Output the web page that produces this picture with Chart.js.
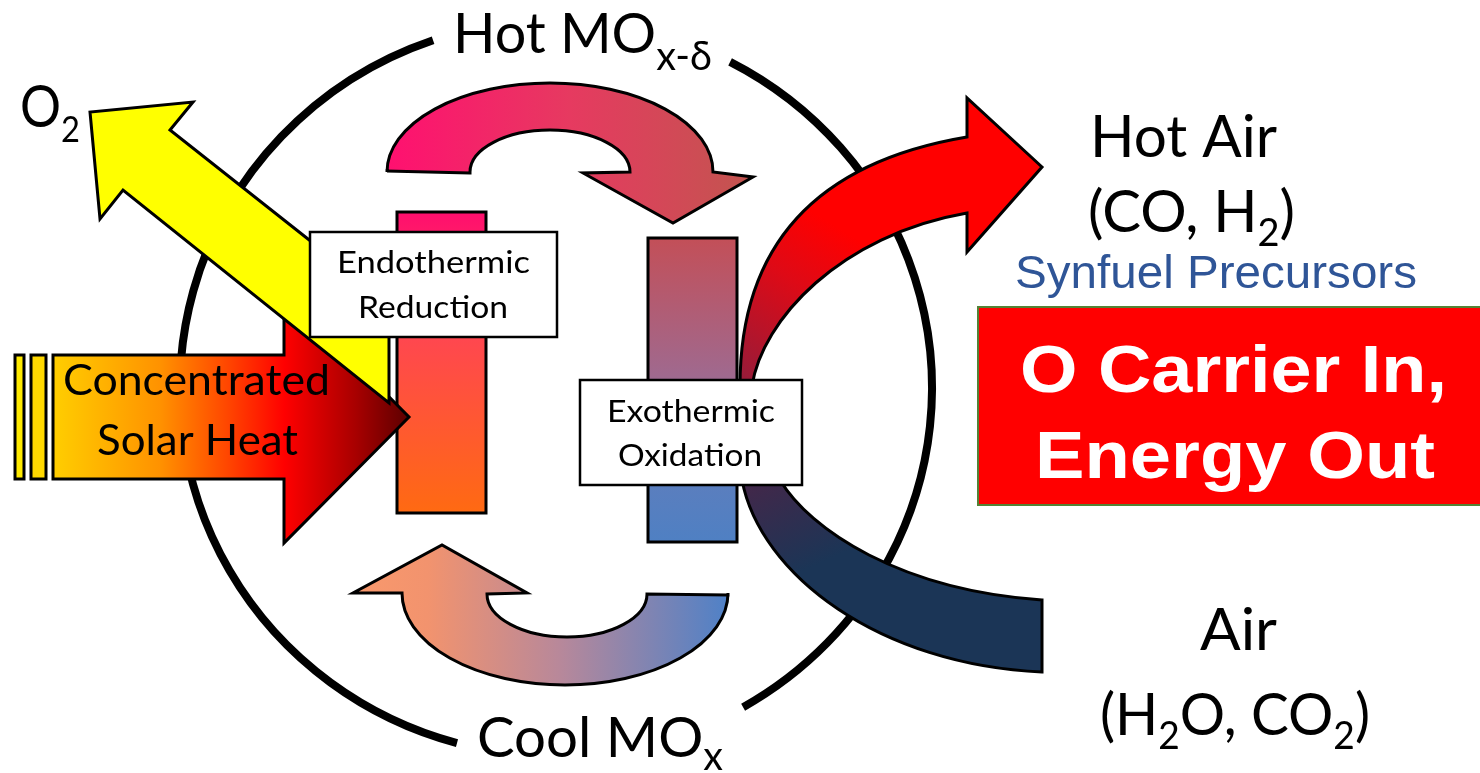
<!DOCTYPE html>
<html>
<head>
<meta charset="utf-8">
<script src="https://cdn.jsdelivr.net/npm/chart.js@4.4.0/dist/chart.umd.min.js"></script>
<style>
html,body{margin:0;padding:0;background:#fff;overflow:hidden;}
#wrap{width:1480px;height:773px;position:relative;}
</style>
</head>
<body>
<div id="wrap"><canvas id="c" width="1480" height="773"></canvas></div>
<script>
// ---------- diagram geometry (data coordinates: x 0..1480, y 0..773 top-down) ----------
const cycleRing = { cx: 556, cy: 388, rx: 376, ry: 368,
  arcs: [[[730, 62], [743, 707]], [[457, 743], [433, 40]]] };

const topCycleArrow = [['M',470,173],['L',387,171],['E',550,172,163,89,180,360,false],
  ['L',753,177],['L',673,223],['L',583,173],['L',630,172],['E',550,172,80,42,360,180,true],['Z']];
const bottomCycleArrow = [['M',728,595],['E',565,593,163,92,0,180,false],['L',353,593],
  ['L',442,545],['L',527,593],['L',487,594],['E',567,594,80,43,180,0,true],['Z']];
const endoBar = [['R',397,212,486,513]];
const exoBar = [['R',648,238,737,542]];
const hotAirArrow = [['M',740,386],['C',740,260,800,165,967,137],['L',967,98],['L',1042,167],
  ['L',967,252],['L',967,213],['C',840,235,762,320,752,386],['Z']];
const airArrow = [['M',742,480],['C',760,575,880,665,1042,672],['L',1042,600],
  ['C',900,590,810,530,780,480],['Z']];
const solarArrow = [['M',53,355],['L',284,355],['L',284,291],['L',409,417],['L',284,543],
  ['L',284,479],['L',53,479],['Z']];
const solarStripe1 = [['R',15,355,24,479]];
const solarStripe2 = [['R',31,355,46,479]];
const oxygenArrow = [['M',389,303],['L',170,130],['L',193,102],['L',90,112],['L',100,219],
  ['L',123,190],['L',389,403],['Z']];
const reductionBox = [['R',310,232,557,337]];
const oxidationBox = [['R',580,380,802,485]];
const outcomeBox = [['R',978,307,1482,505]];

// fills
const fills = {
  topCycleArrow: ['h',387,753,[[0,'#FF1070'],[0.5,'#E63A60'],[1,'#C2554F']]],
  bottomCycleArrow: ['h',353,728,[[0,'#F9996C'],[0.2,'#F2936E'],[0.55,'#B8889A'],[1,'#4F81C7']]],
  endoBar: ['v',212,513,[[0,'#FF0F6E'],[0.42,'#FF474F'],[1,'#FF6A12']]],
  exoBar: ['v',238,542,[[0,'#C34F58'],[0.45,'#A0698E'],[0.8,'#5B7EBE'],[1,'#4F80C3']]],
  hotAirArrow: ['l',745,385,880,170,[[0,'#951C3A'],[0.45,'#DE0A16'],[0.72,'#FF0000'],[1,'#FF0000']]],
  airArrow: ['l',765,480,805,570,[[0,'#41284A'],[1,'#1B3556']]],
  solarArrow: ['h',53,409,[[0,'#FFCE00'],[0.3,'#FF9200'],[0.5,'#FF4200'],[0.65,'#FF0000'],[0.85,'#A80000'],[1,'#5C0000']]],
  solarStripe1: '#FFEA00', solarStripe2: '#FFD800', oxygenArrow: '#FFFF00',
  reductionBox: '#FFFFFF', oxidationBox: '#FFFFFF', outcomeBox: '#FF0000'
};

const shapeOrder = ['topCycleArrow','bottomCycleArrow','endoBar','exoBar','hotAirArrow','airArrow',
  'solarArrow','solarStripe1','solarStripe2','oxygenArrow','reductionBox','oxidationBox','outcomeBox'];
const shapePaths = {topCycleArrow, bottomCycleArrow, endoBar, exoBar, hotAirArrow, airArrow,
  solarArrow, solarStripe1, solarStripe2, oxygenArrow, reductionBox, oxidationBox, outcomeBox};

// labels: runs [text, size, baseline offset], left x, right x, baseline
const labelTexts = [
  {runs:[['Hot MO',56,0],['x-δ',40,17]], x0:453, x1:712, base:53},
  {runs:[['Cool MO',57,0],['x',40,13]], x0:477, x1:723, base:757},
  {runs:[['O',58,0],['2',37,15]], x0:20, x1:80, base:127},
  {runs:[['Concentrated',42,0]], x0:63, x1:330, base:395},
  {runs:[['Solar Heat',42,0]], x0:97, x1:298, base:455},
  {runs:[['Endothermic',31,0]], x0:337, x1:530, base:273},
  {runs:[['Reduction',31,0]], x0:358, x1:508, base:318},
  {runs:[['Exothermic',31,0]], x0:607, x1:775, base:422},
  {runs:[['Oxidation',31,0]], x0:618, x1:762, base:466},
  {runs:[['Hot Air',58,0]], x0:1090, x1:1277, base:157},
  {runs:[['(CO, H',58,0],['2',38,14],[')',58,0]], x0:1088, x1:1295, base:232},
  {runs:[['Air',58,0]], x0:1200, x1:1277, base:650},
  {runs:[['(H',58,0],['2',38,14],['O, CO',58,0],['2',38,14],[')',58,0]], x0:1100, x1:1370, base:735},
  {runs:[['Synfuel Precursors',46,0]], x0:1015, x1:1417, base:288, family:'"Liberation Sans", Arial, sans-serif', color:'#2F5597'},
  {runs:[['O Carrier In,',66,0]], x0:1020, x1:1447, base:392, family:'"Liberation Sans", Arial, sans-serif', color:'#FFFFFF', weight:'bold'},
  {runs:[['Energy Out',66,0]], x0:1035, x1:1435, base:478, family:'"Liberation Sans", Arial, sans-serif', color:'#FFFFFF', weight:'bold'}
];

// ---------- helpers ----------
function keyPoints(path){
  const pts=[];
  path.forEach(c=>{
    if(c[0]==='M'||c[0]==='L') pts.push({x:c[1],y:c[2]});
    else if(c[0]==='C') pts.push({x:c[5],y:c[6]});
    else if(c[0]==='E') pts.push({x:c[1],y:c[2]});
    else if(c[0]==='R'){pts.push({x:c[1],y:c[2]});pts.push({x:c[3],y:c[4]});}
  });
  return pts;
}

const diagramPlugin = {
  id:'diagram',
  beforeDraw(chart){
    const ctx=chart.ctx; ctx.save(); ctx.fillStyle='#fff';
    ctx.fillRect(0,0,chart.width,chart.height); ctx.restore();
  },
  afterDatasetsDraw(chart){
    const ctx=chart.ctx, xs=chart.scales.x, ys=chart.scales.y;
    const X=v=>xs.getPixelForValue(v), Y=v=>ys.getPixelForValue(v);
    const SX=v=>Math.abs(X(v)-X(0)), SY=v=>Math.abs(Y(v)-Y(0));
    const rad=d=>d*Math.PI/180;

    // ring
    ctx.save();
    ctx.strokeStyle='#000'; ctx.lineWidth=8; ctx.lineCap='butt';
    const R=cycleRing;
    R.arcs.forEach(([a,b])=>{
      const ang=p=>Math.atan2((p[1]-R.cy)/R.ry,(p[0]-R.cx)/R.rx);
      let a0=ang(a), a1=ang(b); if(a1<a0) a1+=Math.PI*2;
      ctx.beginPath();
      ctx.ellipse(X(R.cx),Y(R.cy),SX(R.rx),SY(R.ry),0,a0,a1,false);
      ctx.stroke();
    });
    ctx.restore();

    function makeFill(f){
      if(typeof f==='string') return f;
      let g;
      if(f[0]==='h') g=ctx.createLinearGradient(X(f[1]),0,X(f[2]),0);
      else if(f[0]==='v') g=ctx.createLinearGradient(0,Y(f[1]),0,Y(f[2]));
      else g=ctx.createLinearGradient(X(f[1]),Y(f[2]),X(f[3]),Y(f[4]));
      f[f.length-1].forEach(s=>g.addColorStop(s[0],s[1]));
      return g;
    }

    shapeOrder.forEach(name=>{
      const path=shapePaths[name];
      ctx.save();
      ctx.beginPath();
      path.forEach(c=>{
        switch(c[0]){
          case 'M': ctx.moveTo(X(c[1]),Y(c[2])); break;
          case 'L': ctx.lineTo(X(c[1]),Y(c[2])); break;
          case 'C': ctx.bezierCurveTo(X(c[1]),Y(c[2]),X(c[3]),Y(c[4]),X(c[5]),Y(c[6])); break;
          case 'E': ctx.ellipse(X(c[1]),Y(c[2]),SX(c[3]),SY(c[4]),0,rad(c[5]),rad(c[6]),c[7]); break;
          case 'R': ctx.rect(X(c[1]),Y(c[2]),X(c[3])-X(c[1]),Y(c[4])-Y(c[2])); break;
          case 'Z': ctx.closePath(); break;
        }
      });
      ctx.fillStyle=makeFill(fills[name]);
      ctx.fill();
      ctx.lineJoin='miter';
      if(name==='outcomeBox'){ctx.strokeStyle='#548235';ctx.lineWidth=2;}
      else if(name.endsWith('Box')){ctx.strokeStyle='#000';ctx.lineWidth=2.5;}
      else {ctx.strokeStyle='#000';ctx.lineWidth=3;}
      ctx.stroke();
      ctx.restore();
    });

    // labels
    labelTexts.forEach(L=>{
      const fam=L.family||'Lato, "DejaVu Sans", sans-serif';
      const w=L.weight||'normal';
      ctx.save();
      let total=0;
      const widths=L.runs.map(r=>{ctx.font=`${w} ${r[1]}px ${fam}`;const m=ctx.measureText(r[0]).width;total+=m;return m;});
      let s=(X(L.x1)-X(L.x0))/total; s=Math.max(0.8,Math.min(1.25,s));
      ctx.translate(X(L.x0),Y(L.base)); ctx.scale(s,1);
      ctx.fillStyle=L.color||'#000'; ctx.textBaseline='alphabetic'; ctx.textAlign='left';
      let cx=0;
      L.runs.forEach((r,i)=>{ctx.font=`${w} ${r[1]}px ${fam}`;ctx.fillText(r[0],cx,r[2]);cx+=widths[i];});
      ctx.restore();
    });
  }
};

const datasets = shapeOrder.map(name=>({
  label:name, data:keyPoints(shapePaths[name]), showLine:false, pointRadius:0, pointHoverRadius:0
}));

new Chart(document.getElementById('c'),{
  type:'scatter',
  data:{datasets},
  options:{
    responsive:false, maintainAspectRatio:false, animation:false,
    layout:{padding:0},
    events:[],
    plugins:{legend:{display:false},tooltip:{enabled:false}},
    scales:{
      x:{type:'linear',min:0,max:1480,display:false},
      y:{type:'linear',min:0,max:773,reverse:true,display:false}
    }
  },
  plugins:[diagramPlugin]
});
</script>
</body>
</html>
